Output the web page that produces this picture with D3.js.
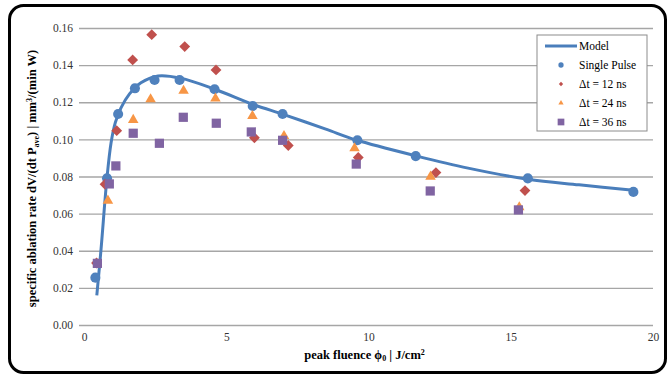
<!DOCTYPE html>
<html>
<head>
<meta charset="utf-8">
<script src="https://d3js.org/d3.v7.min.js"></script>
<style>
  body { margin: 0; background: #fff; }
  text { font-family: "Liberation Serif", "DejaVu Serif", serif; }
</style>
</head>
<body>
<div id="graph"></div>
<script>
// values
var singleX = [0.40, 0.81, 1.20, 1.79, 2.48, 3.36, 4.59, 5.93, 6.98, 9.61, 11.66, 15.60, 19.31];
var singleY = [0.0255, 0.079, 0.1137, 0.1275, 0.132, 0.132, 0.127, 0.118, 0.1137, 0.0995, 0.091, 0.079, 0.0717];

var dt12X = [0.44, 0.74, 1.15, 1.71, 2.38, 3.54, 4.64, 5.99, 7.18, 9.64, 12.37, 15.50];
var dt12Y = [0.0334, 0.0758, 0.1047, 0.1428, 0.1564, 0.150, 0.1374, 0.1009, 0.0967, 0.0903, 0.0821, 0.0724];

var dt24X = [0.84, 1.73, 2.34, 3.50, 4.62, 5.92, 7.03, 9.51, 12.18, 15.30];
var dt24Y = [0.067, 0.1105, 0.1216, 0.1262, 0.122, 0.1126, 0.1018, 0.0952, 0.0799, 0.0634];

var dt36X = [0.47, 0.89, 1.12, 1.73, 2.65, 3.49, 4.65, 5.88, 6.98, 9.57, 12.17, 15.27];
var dt36Y = [0.0332, 0.076, 0.0857, 0.1033, 0.0979, 0.1119, 0.1087, 0.104, 0.0995, 0.0867, 0.0722, 0.062];

var modelX = [0.45, 0.6, 0.8, 0.95, 1.1, 1.3, 1.6, 2.0, 2.6, 3.4, 4.6, 6.0, 7.0, 8.5, 9.6, 11.7, 13.5, 15.6, 17.4, 19.4];
var modelY = [0.016, 0.041, 0.078, 0.098, 0.109, 0.117, 0.1245, 0.1305, 0.1342, 0.133, 0.127, 0.1185, 0.1135, 0.1055, 0.0995, 0.091, 0.0845, 0.0785, 0.0755, 0.0725];

var xTicks = [0, 5, 10, 15, 20];
var yTicks = [0, 0.02, 0.04, 0.06, 0.08, 0.10, 0.12, 0.14, 0.16];
var legendLabels = ["Model", "Single Pulse", "\u0394t = 12 ns", "\u0394t = 24 ns", "\u0394t = 36 ns"];

var W = 669, H = 378;
var margin = {top: 28, right: 16, bottom: 53, left: 84};
var width = W - margin.left - margin.right,
    height = H - margin.top - margin.bottom;
var serif = "'Liberation Serif', 'DejaVu Serif', serif";

var svg = d3.select("#graph").append("svg")
    .attr("width", W).attr("height", H)
    .attr("font-family", serif);

// outer rounded frame
svg.append("rect")
  .attr("x", 9.5).attr("y", 5.5)
  .attr("width", 656).attr("height", 367)
  .attr("rx", 14).attr("ry", 14)
  .attr("fill", "#fff").attr("stroke", "#000").attr("stroke-width", 3);

var g = svg.append("g")
  .attr("transform", "translate(" + margin.left + "," + margin.top + ")");

var x = d3.scaleLinear().domain([0, 20]).range([0, width]);
var y = d3.scaleLinear().domain([0, 0.16]).range([height, 0]);

// y axis with gridlines
var yAxis = g.append("g")
  .call(d3.axisLeft(y).tickValues(yTicks).tickSize(-width - 5).tickSizeOuter(0)
    .tickFormat(d3.format(".2f")).tickPadding(6))
  .attr("transform", "translate(-5,0)")
  .attr("font-family", serif);
yAxis.select(".domain").remove();
yAxis.selectAll("line").attr("stroke", "#a6a6a6").attr("stroke-width", 1.3);
yAxis.selectAll("text").attr("font-size", "11.5px").attr("fill", "#333");

// x axis labels
var xAxis = g.append("g")
  .attr("transform", "translate(0," + height + ")")
  .call(d3.axisBottom(x).tickValues(xTicks).tickSize(0).tickPadding(8))
  .attr("font-family", serif);
xAxis.select(".domain").remove();
xAxis.selectAll("text").attr("font-size", "11.5px").attr("fill", "#333");

// model curve
var line = d3.line()
  .x(function(d) { return x(d[0]); })
  .y(function(d) { return y(d[1]); })
  .curve(d3.curveCatmullRom.alpha(0.5));
g.append("path")
  .datum(modelX.map(function(v, i) { return [v, modelY[i]]; }))
  .attr("d", line)
  .attr("fill", "none").attr("stroke", "#4a7ebb").attr("stroke-width", 3);

var blue = "#4f81bd", red = "#c0504d", orange = "#f79646", purple = "#8064a2";

function pts(xs, ys) { return xs.map(function(v, i) { return [v, ys[i]]; }); }

var shapes = [
  {data: pts(singleX, singleY), type: d3.symbolCircle, size: 80, color: blue},
  {data: pts(dt12X, dt12Y), type: d3.symbolDiamond2, size: 75, color: red},
  {data: pts(dt24X, dt24Y), type: d3.symbolTriangle, size: 48, color: orange},
  {data: pts(dt36X, dt36Y), type: d3.symbolSquare, size: 85, color: purple}
];

shapes.forEach(function(s) {
  g.append("g").selectAll("path")
    .data(s.data)
    .enter().append("path")
    .attr("transform", function(d) { return "translate(" + x(d[0]) + "," + y(d[1]) + ")"; })
    .attr("d", d3.symbol().type(s.type).size(s.size))
    .attr("fill", s.color);
});

// legend
var lg = svg.append("g").attr("transform", "translate(537,35)");
lg.append("rect")
  .attr("width", 110).attr("height", 96)
  .attr("fill", "#fff").attr("stroke", "#8c8c8c");

var legendShapes = [null,
  {type: d3.symbolCircle, size: 22, color: blue},
  {type: d3.symbolDiamond2, size: 12, color: red},
  {type: d3.symbolTriangle, size: 12, color: orange},
  {type: d3.symbolSquare, size: 45, color: purple}];

legendLabels.forEach(function(lab, i) {
  var row = lg.append("g").attr("transform", "translate(0," + (11 + i * 19) + ")");
  if (i === 0) {
    row.append("line").attr("x1", 8).attr("x2", 40).attr("y1", 0).attr("y2", 0)
      .attr("stroke", "#4a7ebb").attr("stroke-width", 3);
  } else {
    var s = legendShapes[i];
    row.append("path").attr("transform", "translate(24,0)")
      .attr("d", d3.symbol().type(s.type).size(s.size)).attr("fill", s.color);
  }
  row.append("text").attr("x", 42).attr("y", 4)
    .attr("font-size", "11.5px").attr("fill", "#000").text(lab);
});

// axis titles
var yt = svg.append("text")
  .attr("transform", "translate(36," + (margin.top + height / 2 + 2) + ") rotate(-90)")
  .attr("text-anchor", "middle")
  .attr("font-size", "12.5px").attr("font-weight", "bold");
yt.append("tspan").text("specific ablation rate dV/(dt P");
yt.append("tspan").attr("font-size", "8px").attr("dy", 3).text("ave");
yt.append("tspan").attr("dy", -3).text(") | mm");
yt.append("tspan").attr("font-size", "8px").attr("dy", -4).text("3");
yt.append("tspan").attr("dy", 4).text("/(min W)");

var xt = svg.append("text")
  .attr("x", margin.left + x(10) - 4).attr("y", 359)
  .attr("text-anchor", "middle")
  .attr("font-size", "12.5px").attr("font-weight", "bold");
xt.append("tspan").text("peak fluence \u03d5");
xt.append("tspan").attr("font-size", "8px").attr("dy", 2).text("0");
xt.append("tspan").attr("dy", -2).text(" | J/cm");
xt.append("tspan").attr("font-size", "8px").attr("dy", -4).text("2");
</script>
</body>
</html>
